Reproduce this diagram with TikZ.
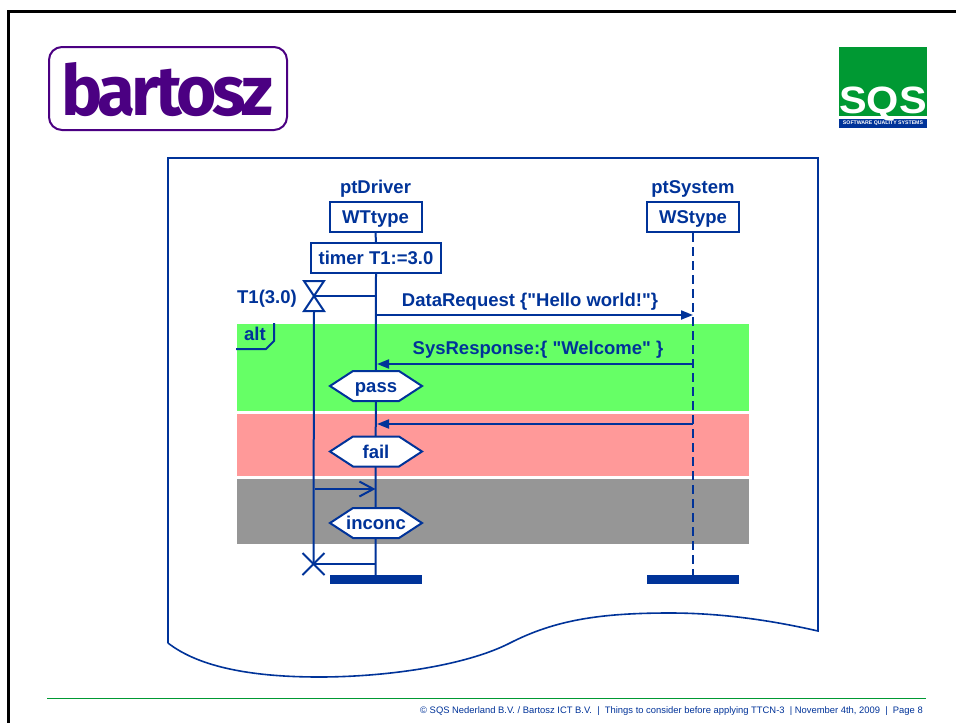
\documentclass[tikz,border=0pt]{standalone}
\usepackage{fontspec}
\setmainfont{Liberation Sans}[Ligatures=TeXOff]
\newfontfamily\logofont{Fira Sans}[LetterSpace=-6]
\usetikzlibrary{arrows.meta}
\definecolor{ttblue}{HTML}{003399}
\definecolor{logopurple}{HTML}{4B0082}
\definecolor{sqsgreen}{HTML}{009933}
\definecolor{bandgreen}{HTML}{66FF66}
\definecolor{bandred}{HTML}{FF9999}
\definecolor{bandgray}{HTML}{969696}
\tikzset{
  ln/.style={draw=ttblue,line width=2pt},
  lbl/.style={text=ttblue,font=\fontsize{18.5}{20}\selectfont\bfseries,inner sep=0pt,text height=13pt,text depth=0pt},
  typebox/.style={lbl,ln,fill=white,minimum width=92pt,minimum height=30pt},
  endbar/.style={fill=ttblue,draw=none,minimum width=92pt,minimum height=9pt,inner sep=0pt},
  band/.style={draw=none,inner sep=0pt,minimum width=512pt},
  msg/.style={ln,-{Stealth[inset=0pt,length=12pt,width=9pt]}},
  openmsg/.style={ln,-{Straight Barb[length=14pt,width=15pt,line width=2pt]}}
}
\newcommand\hexverdict[3]{%
  \draw[ln,fill=white,line join=miter,shift={(#2)}] (-46,0) -- (-23,-15) -- (23,-15) -- (46,0) -- (23,15) -- (-23,15) -- cycle;
  \node[lbl] (#1) at (#2) {#3};}
\begin{document}
\begin{tikzpicture}[x=1pt,y=-1pt]
\useasboundingbox (0,0) rectangle (956,723);
\fill[white] (0,0) rectangle (956,723);
% slide frame
\draw[black,line width=3pt] (8.5,740) -- (8.5,11) -- (970,11);
% bartosz logo
\node[draw=logopurple,line width=2pt,rounded corners=13pt,minimum width=238pt,minimum height=83pt,inner sep=0pt] (logoA) at (168,88.5) {};
\node[text=logopurple,inner sep=0pt,anchor=base] (logoT) at (167.5,115) {\logofont\bfseries\scalebox{0.91}[0.92]{\fontsize{76}{80}\selectfont bartosz}};
% SQS logo
\node[fill=sqsgreen,minimum width=88pt,minimum height=69pt,inner sep=0pt] (sqsG) at (883,81.5) {};
\node[fill=ttblue,minimum width=88pt,minimum height=9pt,inner sep=0pt,text=white,font=\fontsize{5.2}{6}\selectfont\bfseries] (sqsB) at (883,123.5) {SOFTWARE QUALITY SYSTEMS};
\node[text=white,inner sep=0pt,anchor=base] (sqsT) at (883,113) {\scalebox{1.22}[1.12]{\fontsize{34}{36}\selectfont\bfseries SQS}};
% document shape
\draw[draw=ttblue,line width=1.6pt,line join=miter] (168,643) -- (168,158) -- (818,158) -- (818,631)
  .. controls (770,620) and (720,613) .. (670,613)
  .. controls (600,613) and (555,620) .. (510,643)
  .. controls (465,666) and (385,677) .. (319,677)
  .. controls (255,677) and (200,668) .. (168,643);
% footer
\draw[sqsgreen,line width=1pt] (47,698) -- (926,698);
\node[anchor=east,inner sep=0pt,text=ttblue,font=\fontsize{9.4}{10}\selectfont] (foot) at (923,711) {© SQS Nederland B.V. / Bartosz ICT B.V.~~|~~Things to consider before applying TTCN-3~~| November 4th, 2009~~|~~Page 8};
% bands
\node[band,fill=bandgreen,minimum height=87pt] (bGreen) at (493,367.5) {};
\node[band,fill=bandred,minimum height=62pt] (bRed) at (493,445) {};
\node[band,fill=bandgray,minimum height=65pt] (bGray) at (493,511.5) {};
% headers
\node[lbl] (nDriver) at (375.5,187) {ptDriver};
\node[lbl] (nSystem) at (693,187) {ptSystem};
\node[typebox] (wt) at (375.5,217) {WTtype};
\node[typebox] (ws) at (693,217) {WStype};
\node[lbl,ln,fill=white,minimum width=130pt,minimum height=30pt] (timer) at (376,258) {timer T1:=3.0};
% end bars
\node[endbar] (endD) at (375.5,579.5) {};
\node[endbar] (endS) at (693,579.5) {};
% lifelines
\draw[ln] (wt.south) -- (timer.north);
\draw[ln] (timer.south) -- (endD.north);
\draw[ln,dash pattern=on 9pt off 5pt] (ws.south) -- (endS.north);
% coordinates
\coordinate (tc) at (314,296);
\coordinate (tb) at (314,311);
\coordinate (tx) at (313.5,564);
\coordinate (d1) at (375.5,296);
\coordinate (d2) at (375.5,315);
\coordinate (s2) at (693,315);
\coordinate (d3) at (377,364);
\coordinate (s3) at (693,364);
\coordinate (d4) at (377,424);
\coordinate (s4) at (693,424);
\coordinate (d5) at (375.5,489);
\coordinate (t5) at (315,489);
\coordinate (d6) at (375.5,564);
% timer
\draw[ln,line join=miter] (304,281) -- (324,281) -- (304,311) -- (324,311) -- cycle;
\draw[ln] (tc) -- (d1);
\draw[ln] (tb) -- (tx);
\draw[ln] (tx) -- (d6);
\draw[ln] (302.5,553) -- (324.5,575);
\draw[ln] (324.5,553) -- (302.5,575);
\node[lbl] (tset) at (267,297) {T1(3.0)};
% messages
\draw[msg] (d2) -- (s2);
\node[lbl] (m1) at (530,299.5) {DataRequest \{"Hello world!"\}};
\draw[msg] (s3) -- (d3);
\node[lbl] (m2) at (538,347.5) {SysResponse:\{ "Welcome" \}};
\draw[msg] (s4) -- (d4);
\draw[openmsg] (t5) -- (d5);
% alt tag
\draw[ln] (236,349) -- (266,349) -- (274,341) -- (274,323);
\node[lbl] (alt) at (255,334) {alt};
% verdicts
\hexverdict{pass}{376,386}{pass}
\hexverdict{fail}{376,451.5}{fail}
\hexverdict{inconc}{376,523}{inconc}
\end{tikzpicture}
\end{document}
